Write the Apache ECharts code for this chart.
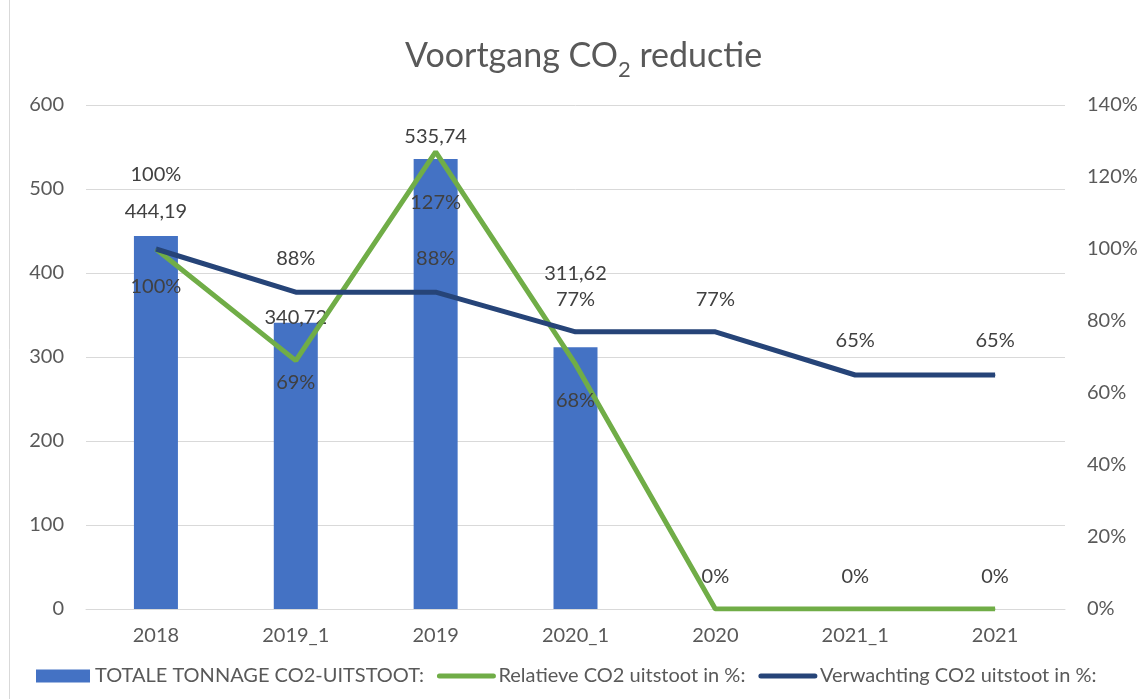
<!DOCTYPE html>
<html>
<head>
<meta charset="utf-8">
<script src="https://cdn.jsdelivr.net/npm/echarts@6/dist/echarts.min.js"></script>
<style>
html,body{margin:0;padding:0;background:#fff;}
#chart{width:1146px;height:699px;}
</style>
</head>
<body>
<div id="chart"></div>
<script>
// ---- data ----
var categories = ['2018', '2019_1', '2019', '2020_1', '2020', '2021_1', '2021'];
var tonnage = [444.19, 340.72, 535.74, 311.62, null, null, null];
var relatief = [100, 69, 127, 68, 0, 0, 0];
var verwachting = [100, 88, 88, 77, 77, 65, 65];
var leftTicks = [0, 100, 200, 300, 400, 500, 600];
var rightTicks = [0, 20, 40, 60, 80, 100, 120, 140];
var seriesNames = ['TOTALE TONNAGE CO2-UITSTOOT:', 'Relatieve CO2 uitstoot in %:', 'Verwachting CO2 uitstoot in %:'];

// ---- label placement (style only) ----
var barLabelShift = [-24, -5, -22, -74, 0, 0, 0];
var relLabelShift = [38, 22, 51, 36, -32, -32, -32];
var verLabelShift = [-74, -34, -34, -32, -32, -34, -34];

var FONT = 'Lato';
var txt = '#595959';
var lbl = '#404040';

function comma(v) { return v.toFixed(2).replace('.', ','); }

var chart = echarts.init(document.getElementById('chart'));
var option = {
  backgroundColor: '#ffffff',
  animation: false,
  textStyle: { fontFamily: FONT },
  title: {
    text: '{a|Voortgang CO}{s|2}{a| reductie}',
    left: 400,
    top: 28,
    textStyle: {
      fontWeight: 'normal',
      rich: {
        a: { fontFamily: FONT, fontSize: 34, fontWeight: 'normal', color: txt, lineHeight: 40, verticalAlign: 'bottom' },
        s: { fontFamily: FONT, fontSize: 22, fontWeight: 'normal', color: txt, lineHeight: 40, verticalAlign: 'bottom', padding: [0, 0, -8, 0] }
      }
    }
  },
  graphic: [{
    type: 'rect', silent: true,
    shape: { x: 9.5, y: -5, width: 1200, height: 800 },
    style: { fill: 'none', stroke: '#d9d9d9', lineWidth: 1 }
  }],
  legend: {
    left: 31,
    bottom: 8,
    itemWidth: 54,
    itemHeight: 13,
    itemGap: 13,
    textStyle: { fontFamily: FONT, fontSize: 20, color: txt },
    data: [
      { name: seriesNames[0], icon: 'rect' },
      { name: seriesNames[1], itemStyle: { opacity: 0 }, lineStyle: { width: 5, cap: 'round', color: '#70AD47' } },
      { name: seriesNames[2], itemStyle: { opacity: 0 }, lineStyle: { width: 5, cap: 'round', color: '#264478' } }
    ]
  },
  grid: { left: 86, right: 81, top: 105, bottom: 90 },
  xAxis: {
    type: 'category',
    data: categories,
    boundaryGap: true,
    axisTick: { show: false },
    axisLine: { lineStyle: { color: '#d9d9d9', width: 1 } },
    axisLabel: { fontFamily: FONT, fontSize: 20, color: txt, margin: 17 }
  },
  yAxis: [{
    type: 'value',
    min: leftTicks[0], max: leftTicks[leftTicks.length - 1], interval: leftTicks[1] - leftTicks[0],
    axisLine: { show: false }, axisTick: { show: false },
    splitLine: { lineStyle: { color: '#d9d9d9', width: 1 } },
    axisLabel: { fontFamily: FONT, fontSize: 20, color: txt, margin: 22 }
  }, {
    type: 'value',
    min: rightTicks[0], max: rightTicks[rightTicks.length - 1], interval: rightTicks[1] - rightTicks[0],
    axisLine: { show: false }, axisTick: { show: false },
    splitLine: { show: false },
    axisLabel: { fontFamily: FONT, fontSize: 20, color: txt, margin: 22, formatter: '{value}%' }
  }],
  series: [{
    name: seriesNames[0],
    type: 'bar',
    yAxisIndex: 0,
    barWidth: 44,
    itemStyle: { color: '#4472C4' },
    data: tonnage.map(function (v, i) {
      return {
        value: v,
        label: {
          show: v !== null,
          position: 'top', distance: 0,
          offset: [0, barLabelShift[i] + 10],
          formatter: function (p) { return comma(p.value); },
          fontFamily: FONT, fontSize: 20, color: lbl, lineHeight: 20
        }
      };
    })
  }, {
    name: seriesNames[1],
    type: 'line',
    yAxisIndex: 1,
    symbol: 'circle', symbolSize: 1, showSymbol: true,
    lineStyle: { color: '#70AD47', width: 5 },
    itemStyle: { color: '#70AD47' },
    data: relatief.map(function (v, i) {
      return {
        value: v,
        label: {
          show: true, position: 'inside',
          offset: [0, relLabelShift[i]],
          formatter: '{c}%',
          fontFamily: FONT, fontSize: 20, color: lbl
        }
      };
    })
  }, {
    name: seriesNames[2],
    type: 'line',
    yAxisIndex: 1,
    symbol: 'circle', symbolSize: 1, showSymbol: true,
    lineStyle: { color: '#264478', width: 5 },
    itemStyle: { color: '#264478' },
    data: verwachting.map(function (v, i) {
      return {
        value: v,
        label: {
          show: true, position: 'inside',
          offset: [0, verLabelShift[i]],
          formatter: '{c}%',
          fontFamily: FONT, fontSize: 20, color: lbl
        }
      };
    })
  }]
};
chart.setOption(option);
</script>
</body>
</html>
